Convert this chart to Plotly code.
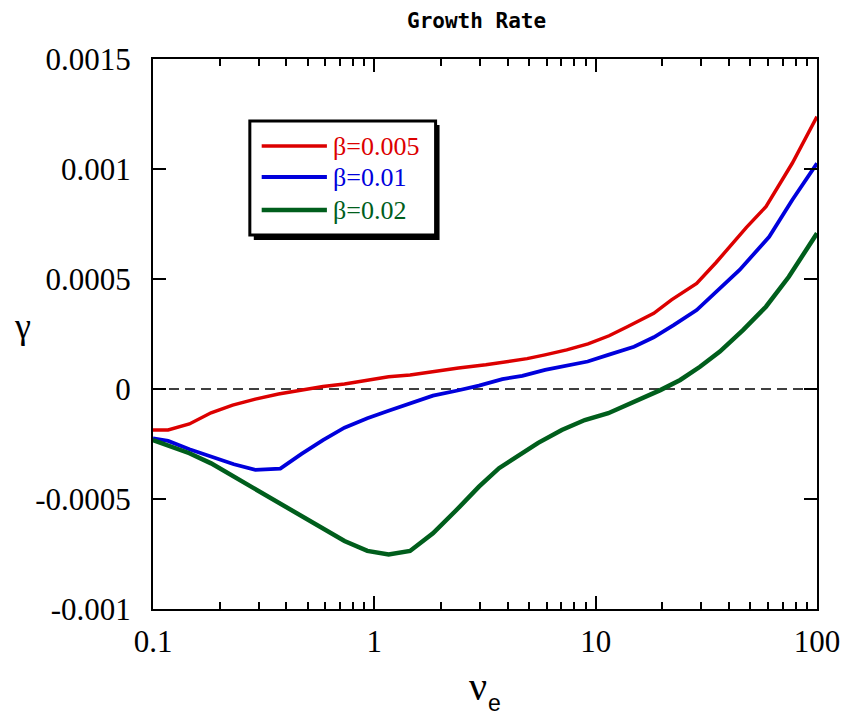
import plotly.graph_objects as go

# Growth rate gamma versus collision frequency nu_e for three beta values
nu_b005 = [0.1, 0.117, 0.146, 0.183, 0.229, 0.29, 0.369, 0.469, 0.586, 0.733,
           0.93, 1.16, 1.45, 1.84, 2.4, 3.19, 3.9, 4.9, 5.9, 7.4,
           9.24, 11.5, 13.9, 18.3, 22.0, 28.6, 35.0, 40.3, 48.0, 58.8, 77.3, 100]
gam_b005 = [-0.000186, -0.000186, -0.000159, -0.000108, -0.000073, -0.000046, -0.000023,
            -0.000005, 0.000011, 0.000023, 0.000041, 0.000056, 0.000064, 0.000080,
            0.000095, 0.000110, 0.000123, 0.000138, 0.000155, 0.000178, 0.000205,
            0.000242, 0.000283, 0.000344, 0.000405, 0.000480, 0.000575, 0.000647,
            0.000735, 0.000829, 0.001026, 0.001238]

nu_b01 = [0.1, 0.117, 0.146, 0.183, 0.232, 0.29, 0.376, 0.469, 0.586, 0.733,
          0.93, 1.16, 1.45, 1.84, 2.35, 2.97, 3.79, 4.66, 5.91, 7.28,
          9.2, 11.4, 14.9, 18.3, 22.5, 28.6, 36.0, 44.7, 60.8, 77.3, 100]
gam_b01 = [-0.000224, -0.000236, -0.000274, -0.000308, -0.000342, -0.000368, -0.000362,
           -0.000295, -0.000232, -0.000176, -0.000133, -0.000099, -0.000065, -0.000030,
           -0.000008, 0.000015, 0.000045, 0.000060, 0.000087, 0.000103, 0.000125,
           0.000155, 0.000192, 0.000235, 0.000290, 0.000359, 0.000450, 0.000541,
           0.000692, 0.000859, 0.001026]

nu_b02 = [0.1, 0.123, 0.146, 0.183, 0.232, 0.295, 0.369, 0.469, 0.586, 0.733,
          0.93, 1.16, 1.45, 1.84, 2.35, 2.97, 3.66, 4.49, 5.5, 7.03,
          8.93, 11.4, 14.9, 19.6, 24.1, 29.6, 36.4, 46.3, 58.8, 74.6, 100]
gam_b02 = [-0.000232, -0.000262, -0.000292, -0.000338, -0.000398, -0.000459, -0.000517,
           -0.000573, -0.000629, -0.000691, -0.000736, -0.000752, -0.000736, -0.000656,
           -0.000550, -0.000444, -0.000360, -0.000300, -0.000245, -0.000186, -0.000141,
           -0.000110, -0.000058, -0.000005, 0.000041, 0.000101, 0.000170, 0.000268,
           0.000374, 0.000510, 0.000708]

series_names = ["β=0.005", "β=0.01", "β=0.02"]
series_colors = ["#dc0000", "#0000dc", "#005e1c"]
series_widths = [3.5, 3.8, 4.5]
series_x = [nu_b005, nu_b01, nu_b02]
series_y = [gam_b005, gam_b01, gam_b02]

x_tick_vals = [0.1, 1, 10, 100]
x_tick_text = ["0.1", "1", "10", "100"]
y_tick_vals = [0.0015, 0.001, 0.0005, 0, -0.0005, -0.001]
y_tick_text = ["0.0015", "0.001", "0.0005", "0", "-0.0005", "-0.001"]
x_minor_vals = [m * d for d in (0.1, 1, 10) for m in range(2, 10)]

# page geometry (pixels)
W, H = 852, 717
L, R, T, B = 153, 825, 59, 609


def fx(p):
    return (p - L) / (R - L)


def fy(p):
    return (B - p) / (B - T)


fig = go.Figure()
for xs, ys, name, col, w in zip(series_x, series_y, series_names, series_colors, series_widths):
    fig.add_trace(go.Scatter(x=xs, y=ys, mode="lines", name=name,
                             line=dict(color=col, width=w), showlegend=False))

serif = "Liberation Serif"
axis_common = dict(showgrid=False, zeroline=False, showline=True, linecolor="black",
                   linewidth=2, mirror="ticks", ticks="inside", tickcolor="black",
                   tickwidth=2, ticklen=13,
                   tickfont=dict(family=serif, size=31, color="black"))

fig.update_xaxes(type="log", range=[-1, 2], tickmode="array",
                 tickvals=x_tick_vals, ticktext=x_tick_text,
                 minor=dict(tickmode="array", tickvals=x_minor_vals, ticks="inside",
                            ticklen=7, tickwidth=1.5, tickcolor="black"),
                 ticklabelstandoff=4, **axis_common)
fig.update_yaxes(range=[-0.001, 0.0015], tickmode="array",
                 tickvals=y_tick_vals, ticktext=y_tick_text,
                 ticklabelstandoff=14, **axis_common)

shapes = []
# zero reference line
shapes.append(dict(type="line", xref="paper", yref="y", x0=0, x1=1, y0=0, y1=0,
                   line=dict(color="black", width=1.5, dash="10px,6px"), layer="below"))
# legend frame with drop shadow
shapes.append(dict(type="rect", xref="paper", yref="paper",
                   x0=fx(255), x1=fx(443), y0=fy(125), y1=fy(240),
                   fillcolor="black", line=dict(width=0)))
shapes.append(dict(type="rect", xref="paper", yref="paper",
                   x0=fx(251), x1=fx(439), y0=fy(121), y1=fy(235),
                   fillcolor="white", line=dict(color="black", width=3)))

annotations = []
legend_rows = [146, 177, 210]
for name, col, w, yr in zip(series_names, series_colors, series_widths, legend_rows):
    shapes.append(dict(type="line", xref="paper", yref="paper",
                       x0=fx(263), x1=fx(329), y0=fy(yr), y1=fy(yr),
                       line=dict(color=col, width=w)))
    annotations.append(dict(xref="paper", yref="paper", x=fx(333), y=fy(yr),
                            xanchor="left", yanchor="middle", showarrow=False,
                            text=name, font=dict(family=serif, size=26, color=col)))

annotations.append(dict(xref="paper", yref="paper", x=fx(480), y=fy(21),
                        xanchor="center", yanchor="middle", showarrow=False,
                        text="<b>Growth Rate</b>",
                        font=dict(family="DejaVu Sans Mono", size=21, color="black")))
annotations.append(dict(xref="paper", yref="paper", x=fx(21), y=fy(326),
                        xanchor="center", yanchor="middle", showarrow=False,
                        text="γ", font=dict(family=serif, size=36, color="black")))
annotations.append(dict(xref="paper", yref="paper", x=fx(482), y=fy(686),
                        xanchor="center", yanchor="middle", showarrow=False,
                        text="ν", font=dict(family=serif, size=40, color="black")))
annotations.append(dict(xref="paper", yref="paper", x=fx(499), y=fy(703),
                        xanchor="center", yanchor="middle", showarrow=False,
                        text="e", font=dict(family="Liberation Sans", size=23,
                                            color="black")))

fig.update_layout(width=W, height=H, margin=dict(l=L, r=W - R, t=T, b=H - B),
                  paper_bgcolor="white", plot_bgcolor="white",
                  shapes=shapes, annotations=annotations, showlegend=False)

fig.write_html("out.html")
